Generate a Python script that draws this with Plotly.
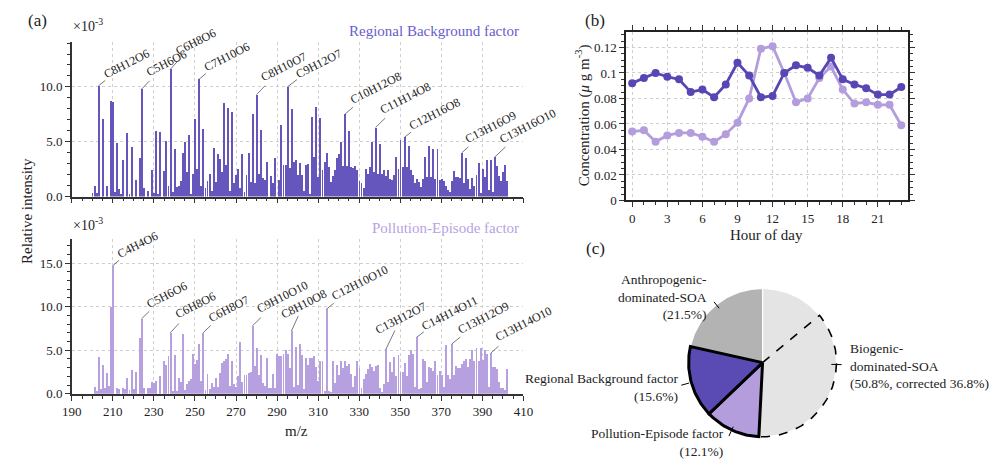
import numpy as np
import plotly.graph_objects as go

W, H = 995, 464
FONT = "Liberation Serif"

# ---------------- data ----------------
# (a) mass spectra, relative intensity in units of 1e-3
rb_mz_start = 200
rb_intensity = [
    0.3, 1.0, 0.3, 10.1, 0, 7.1, 0, 1.0, 0, 8.7,
    8.6, 0.4, 4.9, 0.7, 0.2, 3.3, 0, 5.8, 0.2, 4.5,
    0, 1.5, 0, 3.5, 9.8, 0.8, 0, 0.5, 0, 2.4,
    0.3, 6.0, 0.2, 5.9, 0, 2.3, 5.1, 1.0, 11.6, 0.4,
    4.3, 0.9, 1.0, 1.4, 4.0, 5.0, 2.2, 5.6, 0.2, 2.1,
    7.1, 2.5, 10.7, 1.0, 6.2, 0.8, 1.4, 2.1, 0.5, 4.4,
    1.3, 3.9, 3.4, 2.2, 8.5, 2.9, 8.1, 0.5, 7.7, 1.2,
    2.0, 2.5, 0.8, 3.9, 0.4, 2.0, 4.0, 1.3, 7.5, 1.2,
    9.3, 2.1, 6.1, 1.7, 1.5, 3.2, 0, 1.9, 1.2, 3.5,
    0, 1.5, 6.5, 2.9, 2.9, 10.0, 2.6, 8.0, 3.2, 3.3,
    2.0,
    3.1, 2.0, 0.5, 2.9, 3.0, 0.2, 7.3, 3.6, 8.2, 1.8,
    7.2, 2.4, 3.2, 4.0, 2.7, 1.3, 1.9, 2.4, 3.5, 3.9,
    5.0, 2.8, 7.5, 2.8, 6.0, 2.7, 2.6, 2.8, 2.4, 1.4,
    1.2, 0.8, 2.5, 2.1, 2.7, 5.0, 2.2, 6.3, 2.1, 4.8,
    2.1, 2.4, 1.9, 2.4, 1.6, 1.5, 2.0, 3.6, 2.5, 5.2,
    2.7, 5.4, 2.7, 4.6, 2.4, 2.0, 1.2, 1.6, 1.3, 0.9,
    1.6, 3.6, 1.8, 4.6, 1.8, 4.3, 1.6, 4.3, 1.5, 1.6,
    1.4, 1.0, 0.6, 0.4, 1.4, 2.3, 1.8, 1.8, 1.7, 4.0,
    1.2, 3.5, 1.6, 0.7, 1.7, 1.0, 2.0, 3.1, 0.3, 2.5,
    1.8, 3.3, 0.6, 3.3, 0.4, 3.6, 2.8, 1.9, 1.4, 2.2,
    2.9, 1.4,
]
pe_mz_start = 201
pe_intensity = [
    0.8, 0.3, 4.2, 0.5, 3.3, 0.6, 2.4, 0.9, 10.0, 14.7,
    0, 0.6, 0.5, 0, 0.7, 0.5, 1.8, 0.4, 2.7, 0.5,
    2.5, 0, 6.4, 8.6, 0.6, 0, 0.7, 0.6, 1.3, 1.2,
    1.5, 0, 2.0, 0, 3.8, 3.3, 4.3, 7.0, 0.3, 4.4,
    0.3, 1.8, 1.3, 6.9, 0.4, 1.1, 1.4, 1.7, 4.6, 3.4,
    3.9, 5.7, 1.5, 7.0, 0.4, 2.3, 0.5, 1.2, 0.8, 1.8,
    0.8, 2.4, 3.5, 3.7, 4.0, 4.5, 0.9, 3.8, 1.1, 0.8,
    2.0, 5.9, 1.3, 2.1, 2.2, 2.4, 2.5, 7.8, 3.2, 5.2,
    2.1, 4.4, 1.2, 0.9, 4.1, 0.7, 0.6, 2.3, 0.6, 4.5,
    4.3, 4.3, 4.5, 5.0, 4.6, 3.0, 7.2, 0.8, 5.4, 1.0,
    5.7, 4.4, 0.5, 4.1, 3.3, 4.1, 4.1, 4.3, 3.1, 1.5,
    3.8, 3.8, 0.3, 9.7, 0.3, 0.2, 3.7, 1.2, 3.3, 2.1,
    3.7, 2.9, 3.7, 3.2, 3.4, 2.3, 0.8, 2.0, 3.8, 3.0,
    0.6, 1.7, 2.3, 2.8, 3.4, 3.1, 2.6, 3.2, 3.3, 0.6,
    0.2, 1.1, 5.1, 1.3, 3.6, 2.5, 4.2, 2.0, 4.4, 2.5,
    2.5, 3.5, 2.0, 4.4, 5.0, 4.5, 0.8, 6.5, 0.5, 0.6,
    4.0, 3.8, 1.3, 3.1, 3.0, 2.6, 3.8, 2.2, 2.6, 2.2,
    0.8, 5.6, 2.2, 1.7, 5.7, 2.2, 3.2, 3.0, 2.9, 3.4,
    3.8, 4.0, 3.1, 4.0, 5.0, 3.8, 5.3, 3.8, 5.3, 3.9,
    5.0, 4.5, 0.8, 4.65, 3.1, 3.1, 2.8, 1.3, 0.7, 0.6,
    0.4, 2.8,
]
rb_mz = list(range(rb_mz_start, rb_mz_start + len(rb_intensity)))
pe_mz = list(range(pe_mz_start, pe_mz_start + len(pe_intensity)))

rb_labels = ["C8H12O6", "C5H6O6", "C6H8O6", "C7H10O6", "C8H10O7", "C9H12O7",
             "C10H12O8", "C11H14O8", "C12H16O8", "C13H16O9", "C13H16O10"]
rb_label_mz = [203, 224, 238, 252, 280, 295, 323, 338, 352, 380, 396]
pe_labels = ["C4H4O6", "C5H6O6", "C6H8O6", "C6H8O7", "C9H10O10", "C8H10O8",
             "C12H10O10", "C13H12O7", "C14H14O11", "C13H12O9", "C13H14O10"]
pe_label_mz = [210, 224, 238, 254, 278, 297, 314, 343, 358, 375, 394]

# (b) diurnal variation, ug m-3
hours = list(range(24))
rb_diurnal = [0.092, 0.096, 0.100, 0.097, 0.095, 0.085, 0.087, 0.081, 0.091, 0.108,
              0.098, 0.081, 0.082, 0.100, 0.106, 0.104, 0.098, 0.112, 0.095, 0.091,
              0.088, 0.083, 0.083, 0.089]
pe_diurnal = [0.054, 0.055, 0.046, 0.051, 0.053, 0.053, 0.050, 0.046, 0.052, 0.061,
              0.080, 0.119, 0.121, 0.100, 0.077, 0.080, 0.096, 0.105, 0.087, 0.076,
              0.077, 0.075, 0.075, 0.059]
hour_ticks = [0, 3, 6, 9, 12, 15, 18, 21]

# (c) source apportionment, %
pie_names = ["Biogenic-dominated-SOA", "Pollution-Episode factor",
             "Regional Background factor", "Anthropogenic-dominated-SOA"]
pie_pct = [50.8, 12.1, 15.6, 21.5]
bio_corrected = 36.8
pie_text = ["Biogenic-<br>dominated-SOA<br>(50.8%, corrected 36.8%)",
            "Pollution-Episode factor<br>(12.1%)",
            "Regional Background factor<br>(15.6%)",
            "Anthropogenic-<br>dominated-SOA<br>(21.5%)"]

# ---------------- styles ----------------
DARK = "#5746b3"
LIGHT = "#b49ddc"
GRAY_L = "#e4e4e4"
GRAY_D = "#b3b3b3"
AXC = "#333333"
GRID = "#cfcfcf"


def px_x(p):
    return p / W


def px_y(p):
    return 1 - p / H


fig = go.Figure()

# ---- (a) bars ----
fig.add_trace(go.Bar(x=rb_mz, y=rb_intensity, marker=dict(color="#6456bd", line=dict(width=0)),
                     width=0.45, xaxis="x", yaxis="y", showlegend=False))
fig.add_trace(go.Bar(x=pe_mz, y=pe_intensity, marker=dict(color="#b7a0e0", line=dict(width=0)),
                     width=0.45, xaxis="x2", yaxis="y2", showlegend=False))

# ---- (b) lines ----
fig.add_trace(go.Scatter(x=hours, y=pe_diurnal, mode="lines+markers",
                         line=dict(color=LIGHT, width=2.8), marker=dict(size=8, color=LIGHT),
                         xaxis="x3", yaxis="y3", showlegend=False))
fig.add_trace(go.Scatter(x=hours, y=rb_diurnal, mode="lines+markers",
                         line=dict(color=DARK, width=2.8), marker=dict(size=8, color=DARK),
                         xaxis="x3", yaxis="y3", showlegend=False))

# ---- (c) pie drawn as wedges ----
cum = np.concatenate([[0.0], np.cumsum(pie_pct)])


def arc(a0, a1, r=1.0):
    th = np.linspace(a0, a1, max(int(abs(a1 - a0) * 3), 6)) / 100.0 * 2 * np.pi
    return r * np.sin(th), r * np.cos(th)


slice_fill = [GRAY_L, LIGHT, "#5a4bb4", GRAY_D]
slice_line = ["white", "black", "black", "white"]
slice_lw = [1.2, 3, 3, 1.2]
order = [0, 3, 1, 2]
for i in order:
    ax_, ay_ = arc(cum[i], cum[i + 1])
    xs = np.concatenate([[0], ax_, [0]])
    ys = np.concatenate([[0], ay_, [0]])
    fig.add_trace(go.Scatter(x=xs, y=ys, mode="lines", fill="toself", fillcolor=slice_fill[i],
                             line=dict(color=slice_line[i], width=slice_lw[i]),
                             xaxis="x4", yaxis="y4", showlegend=False, hoverinfo="skip"))

# dashed outline of corrected biogenic part
split = pie_pct[0] - bio_corrected
dx, dy = arc(split, pie_pct[0])
fig.add_trace(go.Scatter(x=np.concatenate([[0], dx]), y=np.concatenate([[0], dy]), mode="lines",
                         line=dict(color="black", width=1.6, dash="dash"),
                         xaxis="x4", yaxis="y4", showlegend=False, hoverinfo="skip"))

# leader lines
lead_r = [(0.93, 1.07), (0.95, 1.09), (1.03, 1.16), (0.94, 1.05)]
for i in range(4):
    mid = (cum[i] + cum[i + 1]) / 2 / 100 * 2 * np.pi
    r0, r1 = lead_r[i]
    fig.add_trace(go.Scatter(x=[r0 * np.sin(mid), r1 * np.sin(mid)],
                             y=[r0 * np.cos(mid), r1 * np.cos(mid)], mode="lines",
                             line=dict(color="black", width=1), xaxis="x4", yaxis="y4",
                             showlegend=False, hoverinfo="skip"))

# ---------------- axes ----------------
tickfont = dict(family=FONT, size=13, color="#222")
xa = dict(range=[190, 410], dtick=20, tick0=190, ticks="outside", ticklen=5, tickwidth=1,
          tickcolor=AXC, showline=True, linecolor=AXC, linewidth=1.5,
          showgrid=True, gridcolor=GRID, griddash="dot", gridwidth=1, zeroline=False,
          minor=dict(dtick=5, tick0=190, ticks="outside", ticklen=3, tickcolor=AXC, showgrid=False),
          tickfont=tickfont)
ya = dict(ticks="outside", ticklen=5, tickcolor=AXC, showline=True, linecolor=AXC, linewidth=1.5,
          showgrid=True, gridcolor=GRID, griddash="dot", zeroline=False, tickformat=".1f",
          dtick=5, minor=dict(dtick=1, ticks="outside", ticklen=3, tickcolor=AXC, showgrid=False),
          tickfont=tickfont)

layout = dict(
    width=W, height=H, margin=dict(l=0, r=0, t=0, b=0),
    paper_bgcolor="white", plot_bgcolor="rgba(0,0,0,0)",
    font=dict(family=FONT, color="#222"), bargap=0, barmode="overlay",
    xaxis=dict(xa, domain=[px_x(63), px_x(524)], anchor="y", showticklabels=False),
    yaxis=dict(ya, domain=[px_y(200), px_y(42.7)], range=[0, 14.1], anchor="x"),
    xaxis2=dict(xa, domain=[px_x(63), px_x(524)], anchor="y2"),
    yaxis2=dict(ya, domain=[px_y(400.7), px_y(243.3)], range=[0, 17.75], anchor="x2"),
    xaxis3=dict(domain=[px_x(629), px_x(916.7)], anchor="y3", range=[-0.5, 23.6],
                tickvals=hour_ticks, ticks="outside", ticklen=5, tickcolor=AXC,
                showline=True, linecolor="#222", linewidth=2, mirror="allticks",
                showgrid=True, gridcolor=GRID, griddash="dot", zeroline=False,
                minor=dict(dtick=1, tick0=0, ticks="outside", ticklen=3, tickcolor=AXC,
                           showgrid=False),
                tickfont=tickfont),
    yaxis3=dict(domain=[px_y(204), px_y(32.3)], anchor="x3", range=[0, 0.1323],
                dtick=0.02, ticks="outside", ticklen=5, tickcolor=AXC,
                showline=True, linecolor="#222", linewidth=2, mirror="allticks",
                showgrid=True, gridcolor=GRID, griddash="dot", zeroline=False,
                minor=dict(dtick=0.005, ticks="outside", ticklen=3, tickcolor=AXC, showgrid=False),
                tickfont=tickfont),
    xaxis4=dict(domain=[px_x(685), px_x(851)], anchor="y4", range=[-1.1, 1.1], visible=False),
    yaxis4=dict(domain=[px_y(452), px_y(286)], anchor="x4", range=[-1.1, 1.1], visible=False),
)
fig.update_layout(**layout)

ann = []


def txt(text, x, y, size=13, xanchor="center", yanchor="middle", angle=0, color="#222", align="center"):
    ann.append(dict(text=text, x=px_x(x), y=px_y(y), xref="paper", yref="paper",
                    showarrow=False, xanchor=xanchor, yanchor=yanchor, textangle=angle,
                    align=align, font=dict(family=FONT, size=size, color=color)))


txt("(a)", 28, 21, size=17)
txt("(b)", 597, 21, size=17)
txt("(c)", 597, 253, size=17)
txt("×10<sup>-3</sup>", 80, 25, size=14)
txt("×10<sup>-3</sup>", 80, 228, size=14)
txt("Regional Background factor", 521, 32, size=15, xanchor="right", color="#6a5ccc")
txt("Pollution-Episode factor", 521, 232, size=15, xanchor="right", color="#b8a2e3")
txt("Relative intensity", 18, 215, size=15, angle=-90)
txt("m/z", 292.5, 439, size=15)
txt("Hour of day", 772, 239, size=15)
txt("Concentration (<i>μ</i> g m<sup>-3</sup>)", 585, 117, size=15, angle=-90)

# pie labels
txt(pie_text[3], 713, 302.5, size=13.5, xanchor="right", align="right")
txt(pie_text[0], 855, 372.5, size=13.5, xanchor="left", align="left")
txt(pie_text[2], 684, 394.5, size=13.5, xanchor="right", align="right")
txt(pie_text[1], 731, 450, size=13.5, xanchor="right", align="right")

# formula labels with leader lines
rb_off = [(27.6, -21.7), (25, -25.7), (25, -27.7), (27.4, -22.7), (26.7, -27.7), (30.7, -23.3),
          (30.6, -26.7), (30, -29.3), (30, -23.3), (29, -25.7), (33, -31)]
pe_off = [(24.3, -20.7), (25, -24.3), (25.3, -27.3), (25, -24), (29.6, -28.4), (12.3, -27.3),
          (32.7, -26.6), (15, -31.4), (33.3, -24.4), (31.7, -25.7), (32.6, -29)]

for lbl, mz, off in zip(rb_labels, rb_label_mz, rb_off):
    yv = rb_intensity[mz - rb_mz_start]
    ann.append(dict(text=lbl, x=mz, y=yv, xref="x", yref="y", ax=off[0], ay=off[1],
                    showarrow=True, arrowhead=0, arrowwidth=0.8, arrowcolor="#555", standoff=0,
                    textangle=-27, font=dict(family=FONT, size=12, color="#222")))
for lbl, mz, off in zip(pe_labels, pe_label_mz, pe_off):
    yv = pe_intensity[mz - pe_mz_start]
    ann.append(dict(text=lbl, x=mz, y=yv, xref="x2", yref="y2", ax=off[0], ay=off[1],
                    showarrow=True, arrowhead=0, arrowwidth=0.8, arrowcolor="#555", standoff=0,
                    textangle=-27, font=dict(family=FONT, size=12, color="#222")))

fig.update_layout(annotations=ann)
fig.write_html("out.html")
